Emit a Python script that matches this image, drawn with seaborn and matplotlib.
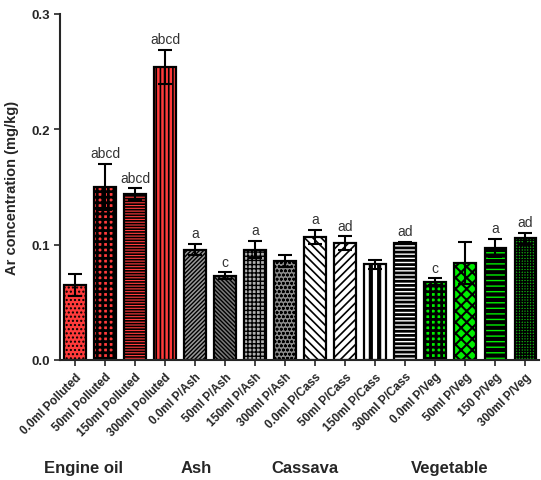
import numpy as np
import pandas as pd
import matplotlib
matplotlib.use("Agg")
import matplotlib.pyplot as plt
import seaborn as sns

# values
samples = ["0.0ml Polluted", "50ml Polluted", "150ml Polluted", "300ml Polluted",
           "0.0ml P/Ash", "50ml P/Ash", "150ml P/Ash", "300ml P/Ash",
           "0.0ml P/Cass", "50ml P/Cass", "150ml P/Cass", "300ml P/Cass",
           "0.0ml P/Veg", "50ml P/Veg", "150 P/Veg", "300ml P/Veg"]
means = [0.065, 0.150, 0.144, 0.254,
         0.0957, 0.073, 0.0957, 0.086,
         0.1067, 0.1015, 0.083, 0.1015,
         0.068, 0.084, 0.097, 0.1055]
errors = [0.0095, 0.020, 0.005, 0.015,
          0.005, 0.003, 0.0075, 0.005,
          0.0063, 0.0058, 0.0037, 0.001,
          0.003, 0.018, 0.008, 0.005]
letters = ["", "abcd", "abcd", "abcd",
           "a", "c", "a", "",
           "a", "ad", "", "ad",
           "c", "", "a", "ad"]
groups = ["Engine oil", "Ash", "Cassava", "Vegetable"]

# styling per bar
RED = "#ff3b3b"
GREEN = "#00ee00"
face = [RED, RED, RED, RED,
        "#9a9a9a", "#7a7a7a", "#b0b0b0", "#8a8a8a",
        "white", "white", "white", "white",
        GREEN, GREEN, "black", "#11aa11"]
hatch_col = ["black"] * 14 + [GREEN, "black"]
hatches = ["....", "+++", "------", "||||",
           "////////", "\\\\\\\\\\\\\\\\", "++++", "oooo",
           "\\\\\\\\", "////", "||", "----",
           "+++", "xxx", "---", "++++++"]
hatch_lw = [1.0, 2.0, 1.2, 1.2,
            1.0, 1.0, 1.0, 0.8,
            1.2, 1.2, 3.0, 2.0,
            2.0, 1.5, 1.0, 1.0]

df = pd.DataFrame({"sample": samples, "mean": means})

sns.set_style("ticks")
plt.rcParams["font.family"] = ["Liberation Sans", "DejaVu Sans"]
plt.rcParams["hatch.linewidth"] = 1.2

fig = plt.figure(figsize=(5.41, 4.81), dpi=100)
ax = fig.add_axes([0.111, 0.2495, 0.885, 0.7195])

sns.barplot(data=df, x="sample", y="mean", hue="sample", palette=face,
            legend=False, width=0.72, saturation=1, ax=ax)
for p, fc, hc, h, lw in zip(ax.patches, face, hatch_col, hatches, hatch_lw):
    p.set_facecolor(fc)
    p.set_edgecolor(hc)
    p.set_hatch(h)
    p.set_linewidth(0)
    if hasattr(p, "set_hatch_linewidth"):
        p.set_hatch_linewidth(lw)

# black outlines on top
sns.barplot(data=df, x="sample", y="mean", fill=False, color="black",
            width=0.72, linewidth=1.6, errorbar=None, ax=ax)

x = np.arange(len(samples))
ax.errorbar(x, means, yerr=errors, fmt="none", ecolor="black",
            elinewidth=1.5, capsize=5, capthick=1.5, zorder=5)

for xi, m, e, t in zip(x, means, errors, letters):
    if t:
        ax.text(xi, m + e + 0.003, t, ha="center", va="bottom",
                fontsize=10, color="#333333")

ax.set_xlim(-0.5, 15.45)
ax.set_ylim(0, 0.3)
ax.set_yticks([0.0, 0.1, 0.2, 0.3])
ax.set_yticklabels(["0.0", "0.1", "0.2", "0.3"], fontweight="bold", fontsize=9.5)
ax.set_xticks(x)
ax.set_xticklabels(samples, rotation=45, ha="right", rotation_mode="anchor",
                   fontweight="bold", fontsize=8.5)
ax.set_xlabel("")
ax.set_ylabel("Ar concentration (mg/kg)", fontweight="bold", fontsize=10.5)
ax.yaxis.set_label_coords(-0.085, 0.5)
sns.despine(ax=ax)
for s in ["left", "bottom"]:
    ax.spines[s].set_linewidth(1.5)
ax.tick_params(width=1.2, length=4)

group_x = [83, 196, 305, 450]
for gx, g in zip(group_x, groups):
    fig.text(gx / 541, 1 - 469 / 481, g, ha="center", va="center",
             fontweight="bold", fontsize=12)

fig.savefig("out.png", dpi=100)
